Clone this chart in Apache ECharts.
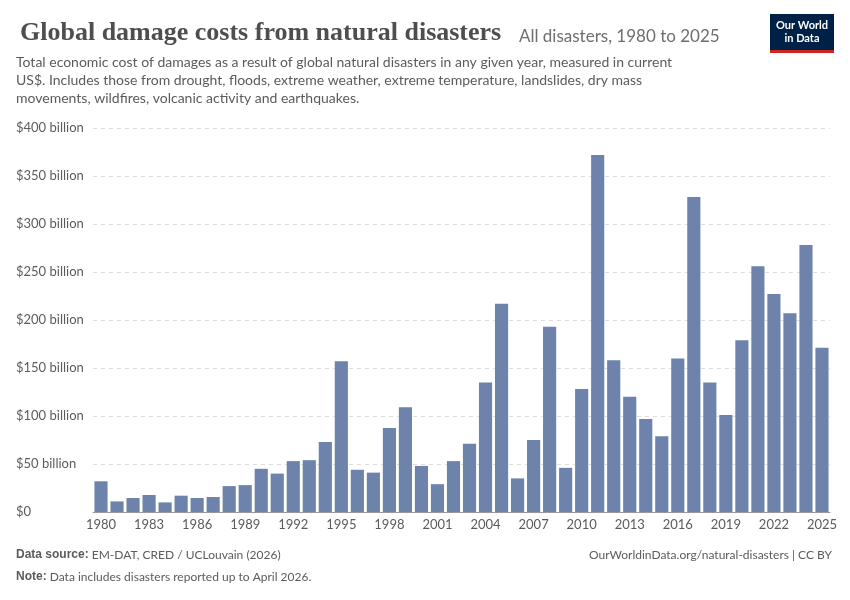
<!DOCTYPE html>
<html>
<head>
<meta charset="utf-8">
<script src="https://cdn.jsdelivr.net/npm/echarts@6/dist/echarts.min.js"></script>
<style>body{margin:0}#main{width:850px;height:600px}</style>
</head>
<body>
<div id="main"></div>
<script>
// years and damages (billion US$)
var years = [];
for (var y = 1980; y <= 2025; y++) years.push(String(y));
var damages = [32, 11, 14.6, 17.7, 10, 17, 14.6, 15.6, 27, 28, 45, 40, 53, 54, 73, 157, 44, 41, 87.5, 109,
    48, 29, 53, 71, 135, 217, 35, 75, 193, 46, 128, 372, 158, 120, 97, 79, 160, 328, 135, 101,
    179, 256, 227, 207, 278, 171];
var yTicks = [0, 50, 100, 150, 200, 250, 300, 350, 400];

var myChart = echarts.init(document.getElementById("main"));
var option = {
    backgroundColor: '#fff',
    textStyle: {fontFamily: 'Lato'},
    title: [
        {text: 'Global damage costs from natural disasters', left: 15, top: 15,
            textStyle: {fontFamily: 'Liberation Serif', fontSize: 26, fontWeight: 'bold', color: '#4e4e4e'}},
        {text: 'All disasters, 1980 to 2025', left: 514, top: 23,
            textStyle: {fontFamily: 'Lato', fontSize: 17, fontWeight: 'normal', color: '#6e6e6e'}}
    ],
    graphic: [
        {type: 'text', left: 16, top: 53, style: {
            text: 'Total economic cost of damages as a result of global natural disasters in any given year, measured in current\nUS$. Includes those from drought, floods, extreme weather, extreme temperature, landslides, dry mass\nmovements, wildfires, volcanic activity and earthquakes.',
            fontFamily: 'Lato', fontSize: 14, lineHeight: 18, fill: '#5b5b5b'}},
        {type: 'rect', shape: {x: 770, y: 14, width: 64, height: 36}, style: {fill: '#002147'}},
        {type: 'rect', shape: {x: 770, y: 50, width: 64, height: 3}, style: {fill: '#ce261e'}},
        {type: 'text', x: 802, y: 32, style: {text: 'Our World\nin Data', fontFamily: 'Lato', fontSize: 11,
            lineHeight: 13, fill: '#fff', align: 'center', verticalAlign: 'middle', fontWeight: 'bold'}},
        {type: 'text', left: 16, top: 549, style: {rich: {b: {fontWeight: 'bold', fill: '#5b5b5b', fontSize: 12}},
            text: '{b|Data source:} EM-DAT, CRED / UCLouvain (2026)', fontFamily: 'Lato', fontSize: 12, fill: '#5b5b5b'}},
        {type: 'text', right: 18, top: 549, style: {text: 'OurWorldinData.org/natural-disasters | CC BY',
            fontFamily: 'Lato', fontSize: 12, fill: '#5b5b5b'}},
        {type: 'text', left: 16, top: 571, style: {rich: {b: {fontWeight: 'bold', fill: '#5b5b5b', fontSize: 12}},
            text: '{b|Note:} Data includes disasters reported up to April 2026.', fontFamily: 'Lato', fontSize: 12, fill: '#5b5b5b'}}
    ],
    grid: {left: 93, right: 20, top: 128, bottom: 88},
    xAxis: {
        type: 'category', data: years,
        axisLine: {lineStyle: {color: '#999'}},
        axisTick: {alignWithLabel: true, interval: 2, lineStyle: {color: '#999'}},
        axisLabel: {interval: 2, color: '#5b5b5b', fontSize: 13, margin: 6}
    },
    yAxis: {
        type: 'value', min: 0, max: 400, interval: 50,
        axisLine: {show: false}, axisTick: {show: false},
        splitLine: {lineStyle: {color: '#ddd', type: [4, 4]}},
        axisLabel: {align: 'left', margin: 77, color: '#5b5b5b', fontSize: 13,
            formatter: function (v) { return v === 0 ? '$0' : '$' + v + ' billion'; }}
    },
    series: [{
        type: 'bar', data: damages, barCategoryGap: '18%',
        itemStyle: {color: '#6d83ab'}
    }]
};
myChart.setOption(option, true);
</script>
</body>
</html>
